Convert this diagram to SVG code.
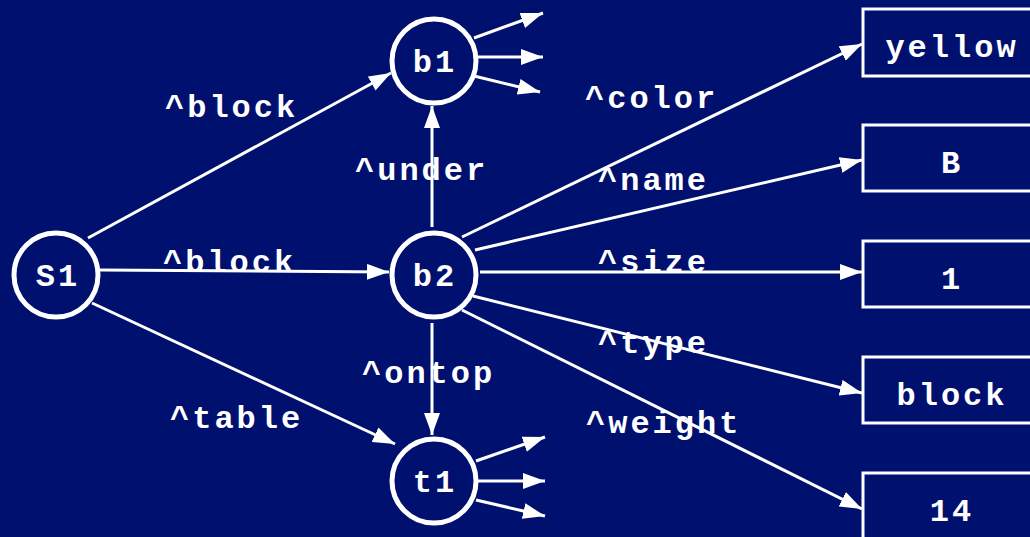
<svg xmlns="http://www.w3.org/2000/svg" width="1030" height="537" viewBox="0 0 1030 537">
  <style>
    .bg { fill: #00106E; }
    .node circle { fill: #00106E; stroke: #FFFFFF; stroke-width: 5; }
    .node rect { fill: #00106E; stroke: #FFFFFF; stroke-width: 3; }
    .node text, .lbl { fill: #FFFFFF; font-family: "Liberation Mono", "Courier New", monospace; font-weight: bold; font-size: 32px; letter-spacing: 3px; }
    .node text { text-anchor: middle; }
    .edge { stroke: #FFFFFF; stroke-width: 3; fill: none; marker-end: url(#head); }
  </style>
  <defs>
    <marker id="head" viewBox="0 0 22 16" refX="22" refY="8" markerWidth="22" markerHeight="16" markerUnits="userSpaceOnUse" orient="auto">
      <path d="M0,0 L22,8 L0,16 Z" fill="#FFFFFF"/>
    </marker>
  </defs>
  <rect class="bg" x="0" y="0" width="1030" height="537"/>

  <g id="connectors">
    <line class="edge" x1="88" y1="238" x2="391" y2="73"/>
    <line class="edge" x1="100" y1="270" x2="389" y2="272"/>
    <line class="edge" x1="92" y1="303" x2="395" y2="444"/>
    <line class="edge" x1="432" y1="227" x2="432" y2="106"/>
    <line class="edge" x1="432" y1="323" x2="432" y2="435"/>
    <line class="edge" x1="462" y1="237" x2="862" y2="44"/>
    <line class="edge" x1="475" y1="250" x2="862" y2="160"/>
    <line class="edge" x1="480" y1="272" x2="862" y2="272"/>
    <line class="edge" x1="473" y1="296" x2="862" y2="393"/>
    <line class="edge" x1="462" y1="310" x2="862" y2="509"/>
    <line class="edge" x1="474" y1="38" x2="543" y2="13"/>
    <line class="edge" x1="478" y1="57" x2="543" y2="57"/>
    <line class="edge" x1="474" y1="76" x2="540" y2="92"/>
    <line class="edge" x1="476" y1="461" x2="545" y2="437"/>
    <line class="edge" x1="478" y1="481" x2="545" y2="481"/>
    <line class="edge" x1="476" y1="500" x2="545" y2="516"/>
  </g>

  <g id="edge-labels">
    <text class="lbl" x="165" y="117">^block</text>
    <text class="lbl" x="163" y="272">^block</text>
    <text class="lbl" x="170" y="428">^table</text>
    <text class="lbl" x="355" y="180">^under</text>
    <text class="lbl" x="362" y="383">^ontop</text>
    <text class="lbl" x="585" y="108">^color</text>
    <text class="lbl" x="598" y="190">^name</text>
    <text class="lbl" x="598" y="272">^size</text>
    <text class="lbl" x="598" y="353">^type</text>
    <text class="lbl" x="586" y="433">^weight</text>
  </g>

  <g id="node-S1" class="node"><circle cx="56" cy="275" r="42"/><text x="58" y="286">S1</text></g>
  <g id="node-b1" class="node"><circle cx="434" cy="61" r="42"/><text x="435" y="72">b1</text></g>
  <g id="node-b2" class="node"><circle cx="434" cy="275" r="42"/><text x="435" y="286">b2</text></g>
  <g id="node-t1" class="node"><circle cx="434" cy="481" r="42"/><text x="435" y="492">t1</text></g>

  <g id="node-yellow" class="node"><rect x="863" y="9" width="180" height="67"/><text x="952" y="57">yellow</text></g>
  <g id="node-B" class="node"><rect x="863" y="125" width="180" height="66"/><text x="952" y="173">B</text></g>
  <g id="node-1" class="node"><rect x="863" y="241" width="180" height="66"/><text x="952" y="289">1</text></g>
  <g id="node-block" class="node"><rect x="863" y="357" width="180" height="66"/><text x="952" y="405">block</text></g>
  <g id="node-14" class="node"><rect x="863" y="473" width="180" height="70"/><text x="952" y="521">14</text></g>
</svg>
